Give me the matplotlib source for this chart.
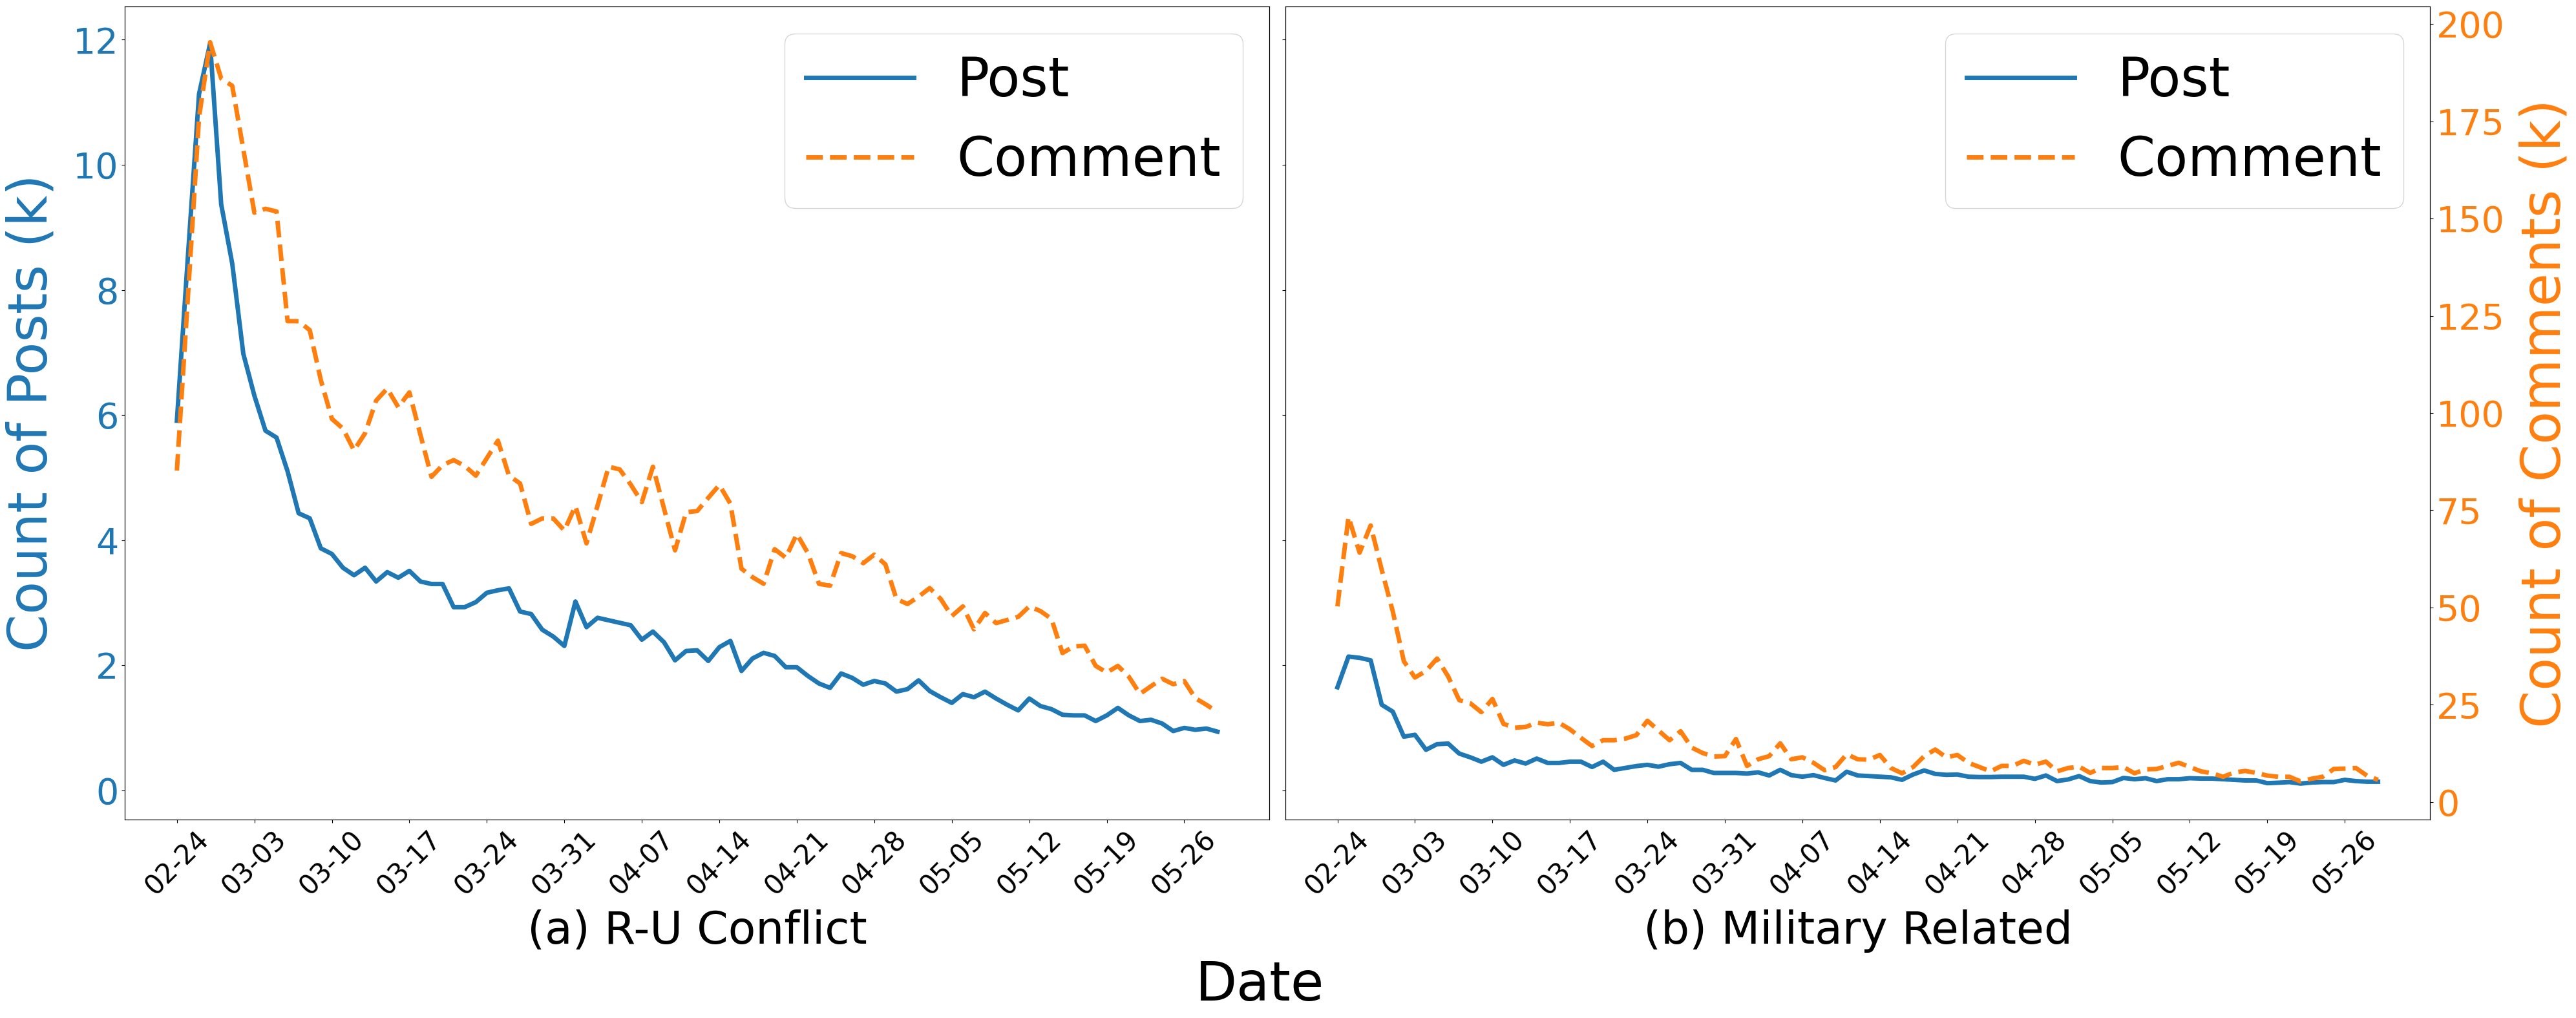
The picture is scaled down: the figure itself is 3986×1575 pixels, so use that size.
import pandas as pd
import matplotlib
matplotlib.use("Agg")
import matplotlib.pyplot as plt
import matplotlib.dates as mdates

# daily counts, 2022-02-24 .. 2022-05-29 (in thousands)
dates = pd.date_range("2022-02-24", periods=95, freq="D")

ru_posts = [5.91, 8.55, 11.13, 11.94, 9.37, 8.42, 6.98, 6.31, 5.75, 5.64,
            5.10, 4.43, 4.35, 3.87, 3.78, 3.56, 3.44, 3.56, 3.34, 3.49,
            3.40, 3.51, 3.34, 3.30, 3.30, 2.93, 2.93, 3.01, 3.16, 3.20,
            3.23, 2.86, 2.82, 2.57, 2.46, 2.31, 3.02, 2.61, 2.76, 2.72,
            2.68, 2.64, 2.41, 2.54, 2.37, 2.08, 2.23, 2.24, 2.07, 2.29,
            2.39, 1.91, 2.11, 2.20, 2.15, 1.97, 1.97, 1.83, 1.71, 1.64,
            1.87, 1.80, 1.69, 1.75, 1.71, 1.58, 1.62, 1.76, 1.59, 1.49,
            1.40, 1.54, 1.49, 1.58, 1.47, 1.37, 1.28, 1.47, 1.35, 1.30,
            1.21, 1.20, 1.20, 1.11, 1.20, 1.32, 1.20, 1.11, 1.13, 1.07,
            0.95, 1.00, 0.97, 0.99, 0.94]

ru_comments = [85.2, 130.0, 176.0, 195.3, 186.0, 184.1, 167.8, 151.5, 152.5, 151.8,
               123.6, 123.6, 121.3, 108.5, 98.5, 96.0, 90.4, 94.8, 103.2, 106.3,
               101.5, 105.3, 94.4, 83.6, 86.6, 87.9, 86.4, 83.9, 88.4, 92.9,
               83.9, 81.9, 71.5, 72.9, 72.9, 69.8, 76.1, 66.5, 76.2, 86.2,
               85.5, 81.6, 77.1, 86.2, 75.5, 64.7, 74.5, 74.8, 78.2, 81.5,
               76.7, 60.0, 57.8, 56.1, 65.0, 62.8, 68.9, 64.0, 56.1, 55.6,
               64.0, 63.2, 61.4, 63.6, 61.1, 52.2, 50.9, 52.8, 55.0, 52.2,
               47.8, 50.3, 44.4, 48.6, 46.0, 46.8, 47.6, 50.3, 49.1, 47.1,
               38.3, 40.0, 40.2, 35.0, 33.3, 35.0, 32.2, 27.8, 29.8, 31.7,
               30.3, 31.1, 26.7, 25.0, 23.1]

mil_posts = [1.65, 2.14, 2.12, 2.08, 1.37, 1.26, 0.86, 0.89, 0.65, 0.74,
             0.75, 0.59, 0.53, 0.46, 0.53, 0.41, 0.48, 0.43, 0.51, 0.44,
             0.44, 0.46, 0.46, 0.375, 0.46, 0.33, 0.36, 0.39, 0.41, 0.38,
             0.42, 0.44, 0.33, 0.33, 0.28, 0.28, 0.28, 0.27, 0.29, 0.24,
             0.33, 0.245, 0.22, 0.245, 0.20, 0.16, 0.30, 0.24, 0.23, 0.22,
             0.21, 0.17, 0.255, 0.32, 0.265, 0.25, 0.255, 0.22, 0.215, 0.215,
             0.22, 0.22, 0.22, 0.186, 0.24, 0.15, 0.176, 0.23, 0.15, 0.127,
             0.134, 0.20, 0.18, 0.196, 0.15, 0.18, 0.18, 0.196, 0.19, 0.19,
             0.18, 0.17, 0.16, 0.16, 0.117, 0.124, 0.134, 0.11, 0.127, 0.134,
             0.134, 0.17, 0.15, 0.14, 0.14]

mil_comments = [50.3, 73.3, 64.1, 71.1, 59.7, 49.0, 36.2, 32.0, 33.7, 36.9,
                32.3, 26.2, 25.4, 23.1, 26.5, 20.1, 19.1, 19.3, 20.4, 20.0,
                20.4, 18.7, 16.5, 14.4, 15.9, 15.9, 16.3, 17.2, 20.9, 18.4,
                15.9, 18.2, 14.0, 12.6, 11.7, 11.8, 16.2, 9.3, 11.0, 11.8,
                15.1, 11.0, 11.5, 10.1, 8.2, 9.0, 12.3, 11.0, 10.9, 12.1,
                8.75, 7.4, 9.0, 11.8, 13.5, 11.5, 12.1, 10.1, 9.0, 7.9,
                9.3, 9.3, 10.6, 9.6, 10.4, 7.9, 8.75, 9.1, 7.5, 8.75,
                8.75, 9.0, 7.4, 8.4, 8.5, 9.3, 10.1, 9.0, 7.9, 7.4,
                6.5, 7.6, 8.0, 7.5, 6.8, 6.5, 6.5, 5.3, 6.0, 6.5,
                8.5, 8.6, 8.75, 6.8, 5.7]

panel_titles = ["(a) R-U Conflict", "(b) Military Related"]

fig = plt.figure(figsize=(39.87, 15.75), dpi=100)
ax1 = fig.add_axes([0.04846, 0.19492, 0.44424, 0.79873])
ax2 = fig.add_axes([0.49887, 0.19492, 0.44424, 0.79873], sharey=ax1)
ax1c = ax1.twinx()
ax2c = ax2.twinx()

panels = [(ax1, ax1c, ru_posts, ru_comments), (ax2, ax2c, mil_posts, mil_comments)]
for i, (ax, axc, posts, comments) in enumerate(panels):
    l1, = ax.plot(dates, posts, color="C0", lw=5, label="Post")
    l2, = axc.plot(dates, comments, color="C1", lw=5, ls="--", label="Comment")
    ax.set_ylim(-0.465, 12.53)
    axc.set_ylim(-4.5, 204.5)
    ax.set_xticks(dates[::7])
    ax.xaxis.set_major_formatter(mdates.DateFormatter("%m-%d"))
    ax.tick_params(axis="x", labelsize=30, rotation=45)
    ax.set_xlabel(panel_titles[i], fontsize=50, labelpad=10)
    axc.legend(handles=[l1, l2], loc="upper right", fontsize=60)

ax1.tick_params(axis="y", labelsize=40, labelcolor="C0")
ax1.set_ylabel("Count of Posts (k)", fontsize=60, color="C0")
ax1.yaxis.set_label_coords(-0.0588, 0.5)
ax1c.tick_params(axis="y", right=False, labelright=False)

ax2.tick_params(axis="y", labelleft=False)
ax2c.tick_params(axis="y", labelsize=40, labelcolor="C1")
ax2c.set_ylabel("Count of Comments (k)", fontsize=60, color="C1")
ax2c.yaxis.set_label_coords(1.0778, 0.5)

fig.text(0.4891, 0.0171, "Date", fontsize=60, ha="center", va="baseline")

fig.savefig("out.png", dpi=100)
